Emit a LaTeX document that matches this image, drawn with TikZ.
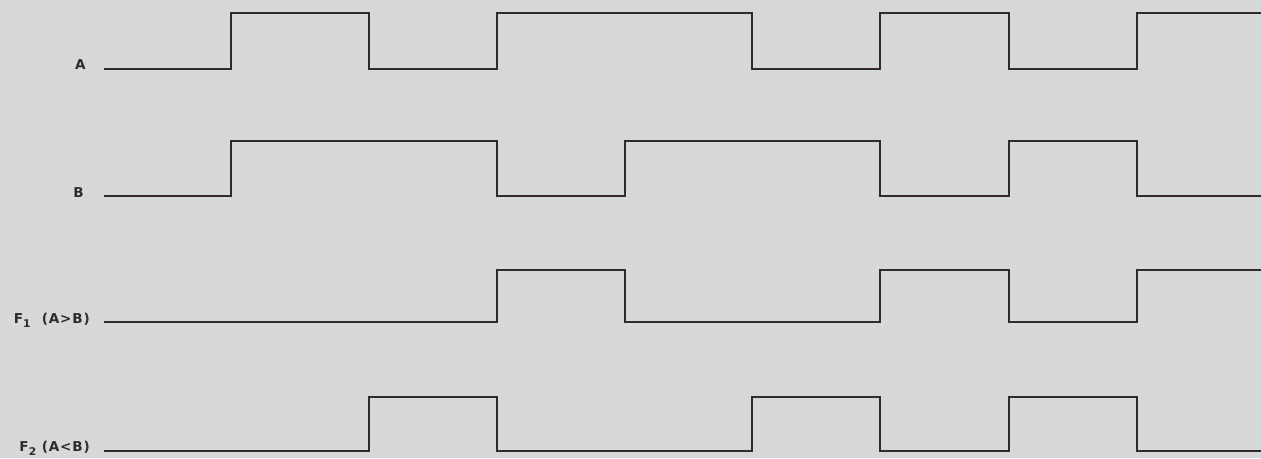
\documentclass[tikz,border=0pt]{standalone}
\usepackage{fontspec}
\usepackage{tikz}
\usetikzlibrary{positioning}
\newfontfamily\lblfont{DejaVu Sans}[LetterSpace=6]
\definecolor{paperGray}{RGB}{215,216,218}
\definecolor{inkGray}{RGB}{48,44,46}
\newcommand{\lowsub}[1]{\raisebox{-3pt}{\fontsize{8}{9}\selectfont #1}}

\begin{document}
\begin{tikzpicture}[x=0.75pt,y=-0.75pt,
    wave/.style={draw=inkGray,line width=1.9pt,line join=miter},
    lbl/.style={inner sep=0pt,text=inkGray,font=\lblfont\bfseries\fontsize{10.2}{12}\selectfont}
  ]
  % paper
  \fill[paperGray] (0,0) rectangle (1261,458);
  \useasboundingbox (0,0) rectangle (1261,458);

  % signal names
  \node[lbl,anchor=base] (labA) at (80.5,69) {A};
  \node[lbl,anchor=base] (labB) at (78.5,197) {B};
  \node[lbl,anchor=base east] (labF1) at (90,323) {F\lowsub{1}\ \ (A>B)};
  \node[lbl,anchor=base east] (labF2) at (90,451) {F\lowsub{2} (A<B)};

  % A
  \draw[wave] (104,69) -| (231,13) -| (369,69) -| (497,13) -| (752,69)
    -| (880,13) -| (1009,69) -| (1137,13) -- (1262,13);
  % B
  \draw[wave] (104,196) -| (231,141) -| (497,196) -| (625,141) -| (880,196)
    -| (1009,141) -| (1137,196) -- (1262,196);
  % F1 (A>B)
  \draw[wave] (104,322) -| (497,270) -| (625,322) -| (880,270) -| (1009,322)
    -| (1137,270) -- (1262,270);
  % F2 (A<B)
  \draw[wave] (104,451) -| (369,397) -| (497,451) -| (752,397) -| (880,451)
    -| (1009,397) -| (1137,451) -- (1262,451);
\end{tikzpicture}
\end{document}
